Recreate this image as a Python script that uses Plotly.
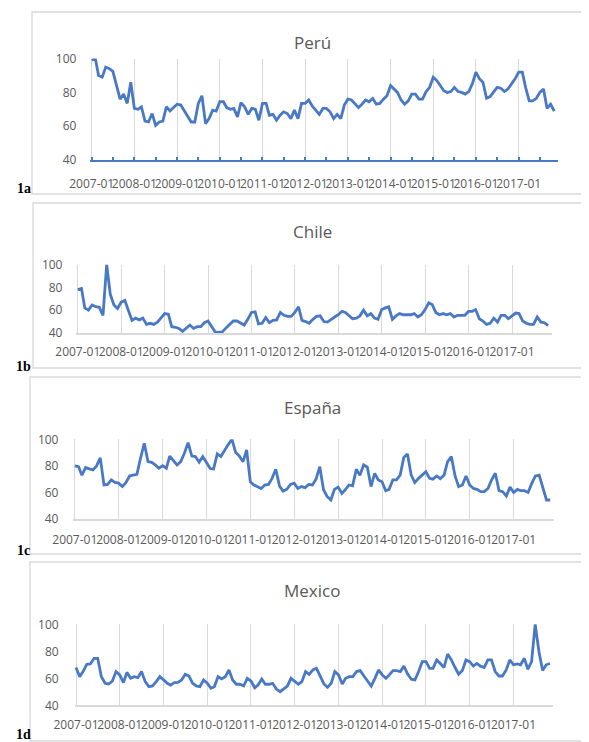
import plotly.graph_objects as go
from datetime import date

# ---------------- data ----------------
months = [f"{y}-{m:02d}-01" for y in range(2007, 2018) for m in range(1, 13)][:131]
year_ticks = ["2007-01", "2008-01", "2009-01", "2010-01", "2011-01", "2012-01",
              "2013-01", "2014-01", "2015-01", "2016-01", "2017-01"]

peru = [
    99, 100, 90, 89, 95, 94, 92.5, 85, 76, 79, 73.5, 86,
    70.5, 70, 71.5, 63, 62.5, 67.5, 60.5, 62.5, 63, 71.5, 69, 71,
    73, 72.5, 69.5, 65.5, 62.5, 62.5, 73.5, 78, 61.5, 64.5, 69.5, 69,
    74.5, 74.5, 71, 70, 70.5, 65.5, 74, 71.5, 67, 70.5, 70, 63.5,
    73.5, 73.5, 66.5, 67, 63.5, 66.5, 68.5, 67.5, 64.5, 69.5, 64.5, 73.5,
    73.5, 75.5, 72, 69.5, 67, 70.5, 70.5, 68.5, 64.5, 67, 64.5, 72.5,
    76, 75.5, 73.5, 71, 73, 75.5, 74.5, 76.5, 73, 73.5, 76, 78,
    84, 82, 80, 75.5, 73, 75, 79, 79, 76, 76, 80.5, 83,
    89, 87, 84, 81, 80, 80.5, 83, 80.5, 80, 79, 80.5, 85,
    92, 88, 86, 76.5, 77.5, 80, 83, 82.5, 80.5, 82, 85, 88,
    92, 92, 83, 75, 75, 76.5, 80, 82, 70.5, 73, 69,
]

chile = [
    78, 79, 62, 60, 64.5, 63, 62.5, 55.5, 100, 74, 64.5, 61.5,
    67, 68.5, 60, 51, 53, 51.5, 53, 47.5, 48.5, 47.5, 49.5, 53.5,
    57, 56.5, 45.5, 45, 44, 41.5, 44, 47, 44, 45.5, 45.5, 49,
    50.5, 46, 41, 40.5, 41, 44.5, 47.5, 50.5, 50.5, 49, 47, 52,
    58, 58.5, 48, 48.5, 53.5, 49, 51, 51.5, 58, 55.5, 54.5, 54.5,
    58, 63, 51, 50, 48.5, 52, 54.5, 55, 50, 49.5, 52, 54,
    56, 59, 58, 55, 52.5, 53, 55, 60, 55, 57, 53, 52,
    60.5, 62, 63, 52, 55, 57, 56, 56, 56, 57, 54, 56,
    60.5, 66.5, 65, 58, 56, 57, 56, 57, 54, 55.5, 55.5, 55.5,
    59, 59, 60.5, 52.5, 50.5, 47.5, 48.5, 53, 49.5, 55.5, 55.5, 52.5,
    55, 57.5, 57, 50.5, 48.5, 47.5, 47.5, 54, 49.5, 49, 46.5,
]

espana = [
    80, 79.4, 73, 78.7, 77.7, 77, 80, 86, 65.6, 66, 69.4, 67.6,
    67, 64.4, 67.4, 72.4, 73, 73.6, 85.7, 97, 83.2, 82.7, 80.7, 78.2,
    80.2, 78.2, 87.4, 84.4, 80.7, 83.2, 89.5, 97.5, 87.4, 87, 82.7, 87,
    82, 78, 77.7, 89, 87, 92, 96, 100, 90, 87.5, 83, 92,
    68, 65.6, 64.4, 63, 65.6, 66, 70.6, 77.4, 64.8, 61, 62.4, 66,
    67, 63, 64.4, 63.6, 66, 65.6, 70, 79.4, 62, 57, 54.3, 62.3,
    64, 59.3, 62, 65.6, 65, 77.4, 73, 80.7, 79, 64.4, 74.4, 69.4,
    68, 61.3, 62.3, 69.4, 69.4, 73, 86.4, 89, 73, 67.4, 70.6, 73,
    75.6, 70.6, 70, 72.4, 70.4, 73, 83.2, 87, 72.4, 64.4, 65.6, 72.4,
    65.6, 63, 62.3, 60.6, 60.6, 63, 69.4, 74.4, 61.3, 60.6, 57.3, 64,
    60, 62.3, 61.3, 61.3, 60, 67, 72.4, 73, 64.4, 54.3, 54.3,
]

mexico = [
    68, 61.2, 65, 70.4, 70.6, 74.8, 74.8, 61.2, 56.3, 55.8, 58, 65,
    62.5, 56.8, 64.4, 60, 61.2, 60.5, 65, 57.5, 53.8, 54.3, 57.5, 61.2,
    58.8, 56.3, 55, 56.8, 57, 58.8, 63, 61.7, 56.3, 54.3, 53.8, 58.8,
    56.3, 52.6, 53.8, 61.2, 59.5, 61.2, 66.2, 58.8, 55.6, 55.6, 54.3, 60,
    58, 53, 55, 59.5, 55.6, 55.6, 56.3, 52, 50.1, 52, 54.3, 60,
    57.5, 55.6, 57.5, 65, 63, 66.2, 67.4, 62, 55.8, 53.3, 56.3, 65,
    62.5, 55.8, 60, 61.2, 61.2, 65, 65.7, 61.7, 57.5, 54.3, 60, 66.2,
    62.5, 60, 62.5, 65.7, 65.7, 65, 69, 63.2, 59.3, 58.8, 65, 72.3,
    72.3, 67.4, 67.4, 73.6, 71, 68, 78, 73.6, 68, 63, 65.7, 73.6,
    72.3, 69, 71, 69, 68, 73.6, 73.6, 65, 61.7, 61.7, 66.2, 73.6,
    70, 70.6, 70, 74.8, 66.7, 72.3, 100, 80, 65.7, 70, 71,
]

titles = ["Perú", "Chile", "España", "Mexico"]
tags = ["1a", "1b", "1c", "1d"]
y_ticks = [40, 60, 80, 100]

# ---------------- layout geometry (screen pixels) ----------------
W, H = 589, 742
OFF = 8  # page body margin offsets the figure on screen
LINE = "#4878C6"
GRID = "#D9D9D9"
TXT = "#595959"
FONT = "Open Sans"

geo = [
    dict(g07=91.7, g17=518.7, ytop=58.6, ybot=160.0, ty=43, box=(32, 12, 194), tag=(24, 189), so=12, yso=13),
    dict(g07=77.8, g17=512.0, ytop=264.5, ybot=333.0, ty=232, box=(33, 203, 368), tag=(23, 367), so=7, yso=13),
    dict(g07=74.8, g17=513.7, ytop=439.3, ybot=519.0, ty=407, box=(30, 377, 554), tag=(23, 550), so=9, yso=14),
    dict(g07=76.0, g17=513.5, ytop=624.3, ybot=705.3, ty=590, box=(30, 562, 741), tag=(23, 734), so=8, yso=15),
]

x_start, x_end = date(2006, 12, 21), date(2017, 11, 30)
d0 = date(2007, 1, 1)
span07_17 = (date(2017, 1, 1) - d0).days

def px(x):
    return (x - OFF) / W

def py(y):
    return 1 - (y - OFF) / H

fig = go.Figure()
series = [peru, chile, espana, mexico]
shapes, annotations = [], []
layout = {}

for i, (vals, g) in enumerate(zip(series, geo)):
    n = "" if i == 0 else str(i + 1)
    pxday = (g["g17"] - g["g07"]) / span07_17
    left = g["g07"] + (x_start - d0).days * pxday
    right = g["g07"] + (x_end - d0).days * pxday

    fig.add_trace(go.Scatter(
        x=months, y=vals, mode="lines",
        line=dict(color=LINE, width=2.8),
        xaxis="x" + n, yaxis="y" + n, showlegend=False, hoverinfo="skip",
    ))

    xa = dict(
        domain=[px(left), px(right)], anchor="y" + n, type="date",
        range=[x_start.isoformat(), x_end.isoformat()],
        tickmode="array", tickvals=[t + "-01" for t in year_ticks], ticktext=year_ticks,
        tickangle=0, showgrid=True, gridcolor=GRID, gridwidth=1.3,
        showline=True, zeroline=False, automargin=False,
        tickfont=dict(family=FONT, size=12, color=TXT),
        ticklabelstandoff=g["so"],
    )
    if i == 0:
        xa.update(linecolor=LINE, linewidth=2, ticks="inside", ticklen=3,
                  tickcolor=LINE, tickwidth=1.5,
                  minor=dict(dtick="M6", tick0="2007-01-01", ticks="inside",
                             ticklen=3, tickcolor=LINE, tickwidth=1.5, showgrid=False))
    else:
        xa.update(linecolor=GRID, linewidth=1.5, ticks="")
    ya = dict(
        domain=[py(g["ybot"]), py(g["ytop"])], anchor="x" + n,
        range=[40, 100], tickvals=y_ticks, showgrid=False, zeroline=False,
        showline=False, ticks="", automargin=False,
        tickfont=dict(family=FONT, size=12, color=TXT),
        ticklabelstandoff=g["yso"],
    )
    layout["xaxis" + n] = xa
    layout["yaxis" + n] = ya

    bx, bt, bb = g["box"]
    shapes.append(dict(type="rect", xref="paper", yref="paper",
                       x0=px(bx), x1=px(W + 12), y0=py(bb), y1=py(bt),
                       line=dict(color=GRID, width=1.3), fillcolor="rgba(0,0,0,0)",
                       layer="below"))
    annotations.append(dict(text=titles[i], xref="paper", yref="paper",
                            x=px(312), y=py(g["ty"]), xanchor="center", yanchor="middle",
                            showarrow=False, font=dict(family=FONT, size=17, color=TXT)))
    tx, ty = g["tag"]
    annotations.append(dict(text="<b>" + tags[i] + "</b>", xref="paper", yref="paper",
                            x=px(tx), y=py(ty), xanchor="center", yanchor="middle",
                            showarrow=False,
                            font=dict(family="Liberation Serif", size=14, color="#000000")))

fig.update_layout(
    width=W, height=H, autosize=False,
    margin=dict(l=0, r=0, t=0, b=0, pad=0, autoexpand=False),
    paper_bgcolor="white", plot_bgcolor="white",
    shapes=shapes, annotations=annotations, **layout,
)

fig.write_html("out.html")
